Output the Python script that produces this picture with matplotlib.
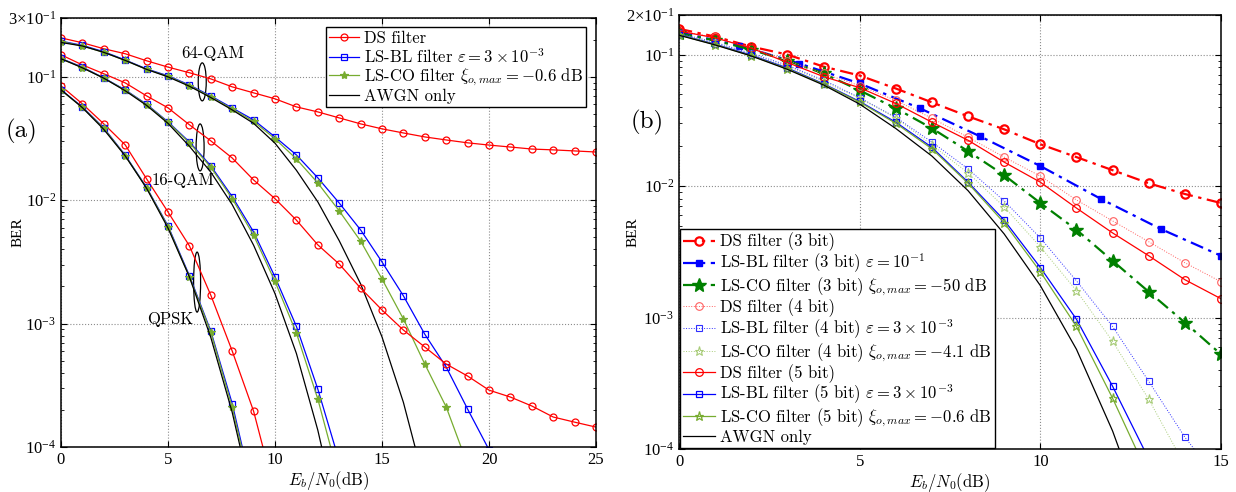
import numpy as np
import matplotlib
matplotlib.use('Agg')
import matplotlib.pyplot as plt
from matplotlib.patches import Ellipse
from matplotlib.transforms import ScaledTranslation
from matplotlib.ticker import NullFormatter

plt.rcParams['font.family'] = ['Liberation Serif', 'DejaVu Serif']
plt.rcParams['mathtext.fontset'] = 'cm'
plt.rcParams['axes.unicode_minus'] = True

# ---------------- (a) data ----------------
x_left = np.arange(0, 26)

qpsk_awgn = [0.0786, 0.0563, 0.0375, 0.0229, 0.0125, 0.00595, 0.00239, 0.000773, 0.000191, 3.36e-5]
qpsk_bl   = [0.0786, 0.057, 0.0386, 0.0232, 0.0127, 0.0062, 0.00245, 0.00087, 0.000225, 4.0e-5]
qpsk_co   = [0.078, 0.0565, 0.0382, 0.023, 0.0126, 0.0061, 0.0024, 0.00085, 0.00021, 3.8e-5]
qpsk_ds   = [0.0845, 0.0604, 0.0416, 0.0281, 0.0149, 0.00803, 0.00427, 0.0017, 0.0006, 0.000195, 4.2e-5]

qam16_awgn = [0.1403, 0.1184, 0.0976, 0.0772, 0.0587, 0.0420, 0.0274, 0.0169, 0.00922, 0.00432,
              0.00175, 0.000573, 0.000137, 2.4e-5]
qam16_bl   = [0.141, 0.12, 0.098, 0.0785, 0.060, 0.0432, 0.0297, 0.019, 0.0107, 0.00554,
              0.00239, 0.00095, 0.000295, 7.7e-5]
qam16_co   = [0.14, 0.119, 0.0975, 0.078, 0.0595, 0.0428, 0.0292, 0.0185, 0.0103, 0.0052,
              0.0022, 0.00084, 0.000245, 5.5e-5]
qam16_ds   = [0.151, 0.125, 0.106, 0.0894, 0.0701, 0.0561, 0.0409, 0.0303, 0.022, 0.0146,
              0.0103, 0.0069, 0.00435, 0.00304, 0.00194, 0.00129, 0.000887, 0.000646, 0.00047,
              0.000376, 0.000289, 0.000254, 0.000215, 0.000175, 0.000159, 0.000145]

qam64_awgn = [0.19, 0.178, 0.158, 0.136, 0.115, 0.1, 0.084, 0.068, 0.054, 0.042, 0.029,
              0.0175, 0.0097, 0.0047, 0.0021, 0.00078, 0.00023, 5e-5]
qam64_bl   = [0.195, 0.18, 0.16, 0.137, 0.116, 0.102, 0.086, 0.07, 0.056, 0.0448, 0.0326,
              0.0233, 0.0152, 0.0095, 0.00575, 0.00316, 0.00168, 0.00082, 0.000445, 0.000203, 9.5e-5]
qam64_co   = [0.193, 0.178, 0.158, 0.136, 0.115, 0.101, 0.085, 0.069, 0.055, 0.0435, 0.0315,
              0.0216, 0.0138, 0.0082, 0.00467, 0.0023, 0.00109, 0.00047, 0.000211, 7.2e-5]
qam64_ds   = [0.207, 0.189, 0.169, 0.154, 0.135, 0.12, 0.108, 0.0963, 0.083, 0.0742, 0.0664,
              0.0571, 0.052, 0.0465, 0.0416, 0.0379, 0.0351, 0.0326, 0.0308, 0.0292, 0.028,
              0.027, 0.026, 0.0256, 0.0251, 0.0246]

# ---------------- (b) data ----------------
x_right = np.arange(0, 16)
x_bl3 = [0, 1.67, 3.33, 5, 6.67, 8.33, 10, 11.67, 13.33, 15]

ds3 = [0.157, 0.137, 0.115, 0.1, 0.081, 0.0693, 0.0552, 0.0433, 0.0339, 0.027, 0.0208,
       0.0166, 0.0132, 0.0105, 0.0087, 0.00743]
bl3 = [0.148, 0.117, 0.0855, 0.0603, 0.039, 0.0239, 0.0142, 0.008, 0.00472, 0.00295]
co3 = [0.145, 0.128, 0.109, 0.09, 0.0718, 0.0534, 0.039, 0.0275, 0.0184, 0.0121, 0.00743,
       0.00465, 0.0027, 0.00157, 0.000916, 0.000525]
ds4 = [0.152, 0.135, 0.113, 0.09, 0.0718, 0.058, 0.0448, 0.0328, 0.0235, 0.0166, 0.0119,
       0.00784, 0.00543, 0.00377, 0.00261, 0.00187]
bl4 = [0.145, 0.124, 0.102, 0.083, 0.064, 0.047, 0.0333, 0.0216, 0.0135, 0.0077, 0.00403,
       0.0019, 0.000855, 0.000327, 0.000123, 5.5e-5]
co4 = [0.143, 0.122, 0.1, 0.081, 0.0625, 0.0465, 0.033, 0.0205, 0.0126, 0.00694, 0.00345,
       0.0016, 0.000658, 0.000239, 7.5e-5]
ds5 = [0.151, 0.134, 0.112, 0.087, 0.068, 0.056, 0.0425, 0.0306, 0.0223, 0.0152, 0.0107,
       0.0068, 0.0044, 0.00295, 0.00194, 0.00139]
bl5 = [0.142, 0.12, 0.099, 0.079, 0.06, 0.044, 0.0306, 0.0197, 0.0107, 0.0055, 0.0024,
       0.00097, 0.0003, 8.4e-5]
co5 = [0.141, 0.119, 0.098, 0.078, 0.0595, 0.0435, 0.030, 0.0192, 0.0105, 0.00525, 0.00223,
       0.000855, 0.000243, 6.2e-5]
awgn_r = qam16_awgn

RED = '#ff0000'
BLUE = '#0000ff'
GREEN = '#77ac30'
DGREEN = '#008000'
LGREEN = '#a8cc78'

fig = plt.figure(figsize=(12.36, 4.92), dpi=100)
ax1 = fig.add_axes([61/1236, 45/492, 535/1236, 429/492])
ax2 = fig.add_axes([679/1236, 43/492, 542/1236, 434/492])

cm = {'family': 'cmr10'}


def plain(ax, x, y, color, marker, label=None, ms=5, mfc='none'):
    ax.plot(x[:len(y)], y, color=color, lw=0.9, marker=marker, ms=ms,
            mfc=mfc, mec=color, mew=0.9, label=label)


# ---- panel (a)
plain(ax1, x_left, qam64_ds, RED, 'o', 'DS filter')
plain(ax1, x_left, qam64_bl, BLUE, 's', r'LS-BL filter $\varepsilon = 3\times10^{-3}$', ms=4.5)
plain(ax1, x_left, qam64_co, GREEN, '*', r'LS-CO filter $\xi_{o,max} = -0.6$ dB', ms=6, mfc=GREEN)
ax1.plot(x_left[:len(qam64_awgn)], qam64_awgn, color='k', lw=0.9, label='AWGN only')

for ds, bl, co, aw in [(qam16_ds, qam16_bl, qam16_co, qam16_awgn),
                       (qpsk_ds, qpsk_bl, qpsk_co, qpsk_awgn)]:
    plain(ax1, x_left, ds, RED, 'o')
    plain(ax1, x_left, bl, BLUE, 's', ms=4.5)
    plain(ax1, x_left, co, GREEN, '*', ms=6, mfc=GREEN)
    ax1.plot(x_left[:len(aw)], aw, color='k', lw=0.9)

ax1.set_xlim(0, 25)
ax1.set_ylim(1e-4, 0.3)
ax1.set_yscale('log')
ax1.set_xticks([0, 5, 10, 15, 20, 25])
ax1.set_yticks([1e-4, 1e-3, 1e-2, 1e-1, 0.3])
ax1.set_yticklabels([r'$\mathdefault{10^{-4}}$', r'$\mathdefault{10^{-3}}$',
                     r'$\mathdefault{10^{-2}}$', r'$\mathdefault{10^{-1}}$',
                     r'$\mathdefault{3{\times}10^{-1}}$'])

ax1.legend(loc='upper right', bbox_to_anchor=(0.982, 0.978), borderaxespad=0,
           prop={'family': 'cmr10', 'size': 12}, fancybox=False, edgecolor='k',
           framealpha=1, handlelength=1.8, handletextpad=0.3, labelspacing=0.05,
           borderpad=0.2)

# group annotations
for xc, yc, w, h in [(6.6, 0.0911, 0.08, 0.38), (6.5, 0.0268, 0.08, 0.47), (6.36, 0.00217, 0.07, 0.60)]:
    tr = fig.dpi_scale_trans + ScaledTranslation(xc, yc, ax1.transData)
    ax1.add_patch(Ellipse((0, 0), w, h, transform=tr, fill=False, lw=0.9, ec='k'))
ax1.text(7.1, 0.156, '64-QAM', ha='center', va='center', fontsize=12, **cm)
ax1.text(5.7, 0.0146, '16-QAM', ha='center', va='center', fontsize=12, **cm)
ax1.text(5.1, 0.00109, 'QPSK', ha='center', va='center', fontsize=12, **cm)

# ---- panel (b)
dd = (0, (6, 2.5, 1.5, 2.5))
ax2.plot(x_right, ds3, color=RED, lw=1.6, ls=dd, marker='o', ms=6, mfc='none', mew=1.6,
         label='DS filter (3 bit)')
ax2.plot(x_bl3, bl3, color=BLUE, lw=1.6, ls=dd, marker='s', ms=5, mfc=BLUE,
         label=r'LS-BL filter (3 bit) $\varepsilon = 10^{-1}$')
ax2.plot(x_right, co3, color=DGREEN, lw=1.6, ls=dd, marker='*', ms=10, mfc=DGREEN,
         label=r'LS-CO filter (3 bit) $\xi_{o,max} = -50$ dB')
ax2.plot(x_right, ds4, color='#ff6060', lw=0.7, ls=':', marker='o', ms=5.5, mfc='none', mew=0.8,
         label='DS filter (4 bit)')
ax2.plot(x_right[:len(bl4)], bl4, color='#3030ff', lw=0.7, ls=':', marker='s', ms=4.5, mfc='none',
         mew=0.8, label=r'LS-BL filter (4 bit) $\varepsilon = 3\times10^{-3}$')
ax2.plot(x_right[:len(co4)], co4, color=LGREEN, lw=0.7, ls=':', marker='*', ms=6.5, mfc='none',
         mew=0.8, label=r'LS-CO filter (4 bit) $\xi_{o,max} = -4.1$ dB')
ax2.plot(x_right, ds5, color=RED, lw=0.9, marker='o', ms=5.5, mfc='none', mew=0.9,
         label='DS filter (5 bit)')
ax2.plot(x_right[:len(bl5)], bl5, color=BLUE, lw=0.9, marker='s', ms=4.5, mfc='none', mew=0.9,
         label=r'LS-BL filter (5 bit) $\varepsilon = 3\times10^{-3}$')
ax2.plot(x_right[:len(co5)], co5, color=GREEN, lw=0.9, marker='*', ms=6.5, mfc='none', mew=0.9,
         label=r'LS-CO filter (5 bit) $\xi_{o,max} = -0.6$ dB')
ax2.plot(x_right[:len(awgn_r)], awgn_r, color='k', lw=0.9, label='AWGN only')

ax2.set_xlim(0, 15)
ax2.set_ylim(1e-4, 0.2)
ax2.set_yscale('log')
ax2.set_xticks([0, 5, 10, 15])
ax2.set_yticks([1e-4, 1e-3, 1e-2, 1e-1, 0.2])
ax2.set_yticklabels([r'$\mathdefault{10^{-4}}$', r'$\mathdefault{10^{-3}}$',
                     r'$\mathdefault{10^{-2}}$', r'$\mathdefault{10^{-1}}$',
                     r'$\mathdefault{2{\times}10^{-1}}$'])

ax2.legend(loc='lower left', borderaxespad=0.05, prop={'family': 'cmr10', 'size': 12},
           fancybox=False, edgecolor='k', framealpha=1, handlelength=1.9,
           handletextpad=0.3, labelspacing=0.02, borderpad=0.2)

for ax in (ax1, ax2):
    ax.yaxis.set_minor_formatter(NullFormatter())
    ax.grid(True, which='major', ls=':', color='0.55', lw=0.8)
    ax.tick_params(which='both', direction='in', top=True, right=True, labelsize=12)
    ax.tick_params(which='major', length=4)
    ax.tick_params(which='minor', length=2.5)
    for s in ax.spines.values():
        s.set_linewidth(1.1)
    ax.set_xlabel(r'$E_b/N_0$(dB)', fontsize=12, labelpad=1, **cm)
    ax.set_ylabel('BER', fontsize=11)

ax1.yaxis.set_label_coords(-0.068, 0.5)
ax2.yaxis.set_label_coords(-0.072, 0.5)

fig.text(21/1236, 1 - 131/492, '(a)', fontsize=18, ha='center', va='center', **cm)
fig.text(647/1236, 1 - 122/492, '(b)', fontsize=18, ha='center', va='center', **cm)

fig.savefig('out.png', dpi=100)
